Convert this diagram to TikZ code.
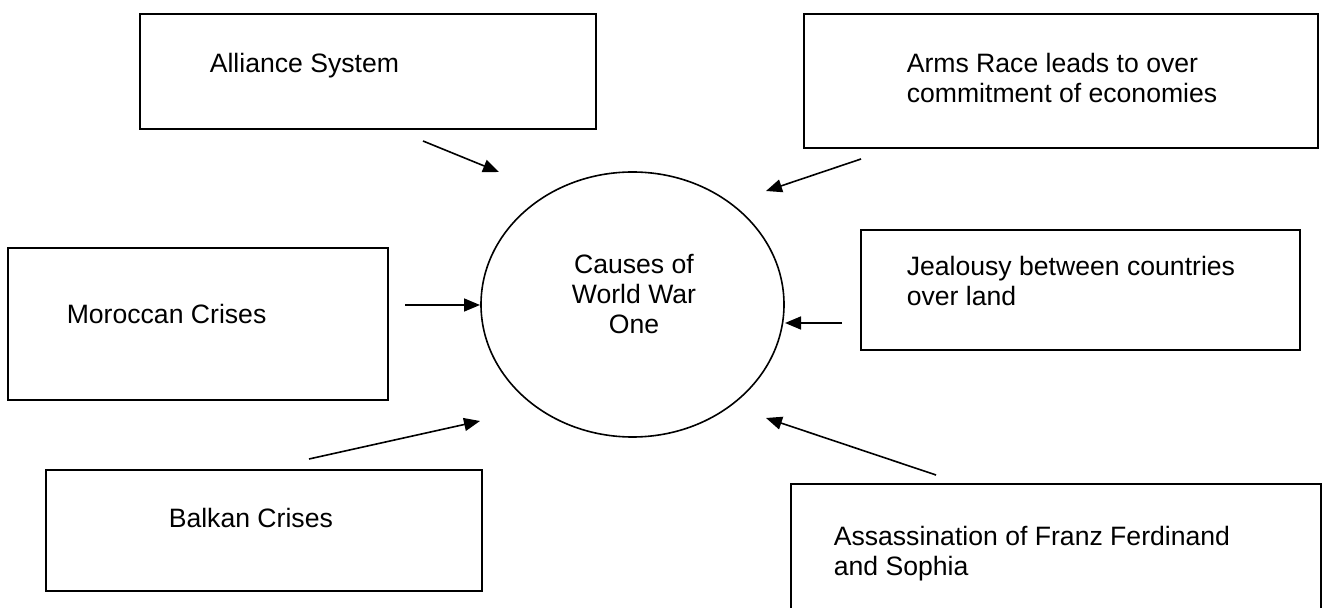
\documentclass[tikz,border=0pt]{standalone}
\usepackage{fontspec}
\setmainfont{Liberation Sans}
\usepackage{tikz}
\usetikzlibrary{arrows.meta,shapes.geometric}

\begin{document}
\begin{tikzpicture}[x=0.5pt, y=-0.5pt, >={Triangle[length=8pt,width=6.5pt]}, line width=0.8pt,
    box/.style={draw, line width=0.9pt, inner sep=0pt, anchor=north west},
    txt/.style={inner sep=0pt, anchor=north west, align=left, font=\fontsize{13.3}{15}\selectfont},
    cause/.style={->}]
	\useasboundingbox (0,0) rectangle (1328,608);
	\clip (0,0) rectangle (1328,608);

	% boxes
	\node[box, minimum width=228pt, minimum height=57.5pt] (AS) at (139,13) {};
	\node[box, minimum width=257pt, minimum height=67pt]   (AR) at (803,13) {};
	\node[box, minimum width=190pt, minimum height=76pt]   (MC) at (7,247) {};
	\node[box, minimum width=219.5pt, minimum height=60pt] (JC) at (860,229) {};
	\node[box, minimum width=218pt, minimum height=60.5pt] (BC) at (45,469) {};
	\node[box, minimum width=265pt, minimum height=70pt]   (FF) at (790,483) {};
	\node[draw, ellipse, inner sep=0pt, minimum width=151.5pt, minimum height=132.5pt] (W) at (632.5,304.5) {};

	% texts
	\node[txt] (ASl) at (209,52.6)  {Alliance System};
	\node[txt] (ARl) at (906,52.6)  {Arms Race leads to over\\commitment of economies};
	\node[txt] (MCl) at (66,303.6)  {Moroccan Crises};
	\node[txt] (JCl) at (906,255.6) {Jealousy between countries\\over land};
	\node[txt] (BCl) at (168,507.6) {Balkan Crises};
	\node[txt] (FFl) at (833,525.6) {Assassination of Franz Ferdinand\\and Sophia};
	\node[txt, anchor=north, align=center] (Wl) at (634,253.6) {Causes of\\World War\\One};

	% arrows
	\coordinate (ASt) at (423,141); \coordinate (ASh) at (499,172);
	\coordinate (ARt) at (861,159); \coordinate (ARh) at (766,191);
	\coordinate (MCt) at (405,305); \coordinate (MCh) at (480,305);
	\coordinate (JCt) at (842,323); \coordinate (JCh) at (785,323);
	\coordinate (BCt) at (309,459); \coordinate (BCh) at (480,421);
	\coordinate (FFt) at (936,475); \coordinate (FFh) at (766,418);

	\path[cause] (ASt) edge (ASh)
	             (ARt) edge (ARh)
	             (MCt) edge (MCh)
	             (JCt) edge (JCh)
	             (BCt) edge (BCh)
	             (FFt) edge (FFh);
\end{tikzpicture}
\end{document}
